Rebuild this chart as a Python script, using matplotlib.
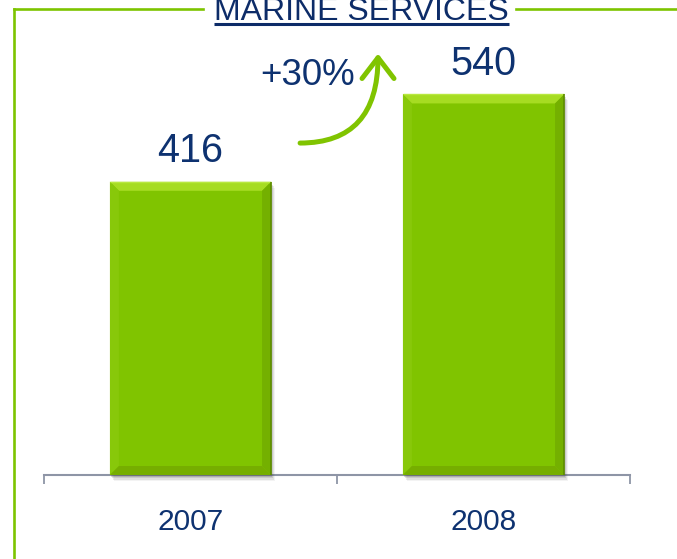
import matplotlib
matplotlib.use("Agg")
import matplotlib.pyplot as plt
from matplotlib.patches import Polygon, Rectangle, FancyArrowPatch
from matplotlib.path import Path
from matplotlib.lines import Line2D
import matplotlib.transforms as mtransforms

# ---- data ----
categories = ["2007", "2008"]
values = [416, 540]
title = "MARINE SERVICES"
growth_label = "+30%"

plt.rcParams['font.family'] = ['Liberation Sans', 'DejaVu Sans']

W, H = 677, 559
fig = plt.figure(figsize=(W / 100, H / 100), dpi=100)
ax = fig.add_axes([44 / W, 84 / H, 586 / W, 475 / H])
ax.set_xlim(-0.5, 1.5)
ax.set_ylim(0, 674)
ax.patch.set_alpha(0)

navy = "#0E3270"
green = "#80C400"
gray = "#8E95A6"

x = list(range(len(categories)))
bars = ax.bar(x, values, width=0.55, color=green, edgecolor="none", zorder=3)

# bevel / shadow effect built from each bar's geometry
inv = ax.transData.inverted()
def px_to_data(dx_px, dy_px):
    p0 = inv.transform((0, 0))
    p1 = inv.transform((dx_px, dy_px))
    return p1[0] - p0[0], p1[1] - p0[1]

bx, by = px_to_data(9, 9)
sx, sy = px_to_data(1, 1)
for r in bars:
    x0, y0 = r.get_x(), r.get_y()
    x1, y1 = x0 + r.get_width(), y0 + r.get_height()
    # soft drop shadow
    for k, a in [(6, 0.06), (4.5, 0.10), (3, 0.14), (1.5, 0.18)]:
        ax.add_patch(Rectangle((x0 + sx * k * 0.6, y0 - sy * k), r.get_width(), r.get_height(),
                               facecolor="#404040", alpha=a, edgecolor="none", zorder=2, clip_on=False))
    # top bevel
    ax.add_patch(Polygon([(x0, y1), (x1, y1), (x1 - bx, y1 - by), (x0 + bx, y1 - by)],
                         closed=True, facecolor="#A6DC22", edgecolor="none", zorder=4))
    # left bevel
    ax.add_patch(Polygon([(x0, y1), (x0 + bx, y1 - by), (x0 + bx, y0 + by), (x0, y0)],
                         closed=True, facecolor="#88C80A", edgecolor="none", zorder=4))
    # right bevel
    ax.add_patch(Polygon([(x1, y1), (x1 - bx, y1 - by), (x1 - bx, y0 + by), (x1, y0)],
                         closed=True, facecolor="#74B000", edgecolor="none", zorder=4))
    # bottom bevel
    ax.add_patch(Polygon([(x0, y0), (x0 + bx, y0 + by), (x1 - bx, y0 + by), (x1, y0)],
                         closed=True, facecolor="#76AE00", edgecolor="none", zorder=4))
    # crisp outline edges
    ax.plot([x0, x1], [y1, y1], color="#B8E840", lw=1.0, zorder=5, solid_capstyle="butt")
    ax.plot([x1, x1], [y0, y1], color="#5E8C00", lw=1.2, zorder=5, solid_capstyle="butt")

# value labels
for xi, v in zip(x, values):
    ax.annotate(str(v), (xi, v), xytext=(0, 14), textcoords="offset points",
                ha="center", va="baseline", fontsize=28.5, color=navy, zorder=6)

# axis styling
for s in ["top", "right", "left"]:
    ax.spines[s].set_visible(False)
ax.spines["bottom"].set_color(gray)
ax.spines["bottom"].set_linewidth(1.5)
ax.spines["bottom"].set_zorder(1)
ax.set_yticks([])
ax.set_xticks(x)
ax.set_xticklabels([])
ax.tick_params(axis="x", which="major", length=0)
ax.set_xticks([-0.5, 0.5, 1.5], minor=True)
ax.tick_params(axis="x", which="minor", length=6.5, width=1.3, color=gray, direction="out")

# category labels (baseline ~55 px below axis)
lab_tr = mtransforms.blended_transform_factory(ax.transData, fig.transFigure)
for xi, c in zip(x, categories):
    ax.text(xi, 1 - 530 / H, c, transform=lab_tr, ha="center", va="baseline",
            fontsize=21.5, color=navy)

# growth arrow between the bars
p_start = (0.374, 471)
p_ctrl = (0.640, 471)
p_tip = (0.640, 598)
arrow_path = Path([p_start, p_ctrl, p_tip], [Path.MOVETO, Path.CURVE3, Path.CURVE3])
arr = FancyArrowPatch(path=arrow_path, arrowstyle="->,head_length=15,head_width=11.5",
                      mutation_scale=1, color=green, lw=3.6, zorder=6,
                      capstyle="round", joinstyle="round", transform=ax.transData, clip_on=False)
ax.add_patch(arr)
fig.text(307.5 / W, 1 - 85 / H, growth_label, ha="center", va="baseline",
         fontsize=26.5, color=navy)

# frame lines and title
frame_green = "#7DC400"
fig.add_artist(Line2D([14 / W, 14 / W], [0, 1 - 9 / H], color=frame_green, lw=1.9,
                      transform=fig.transFigure, solid_capstyle="projecting"))
fig.add_artist(Line2D([14 / W, 203 / W], [1 - 9 / H, 1 - 9 / H], color=frame_green, lw=1.9,
                      transform=fig.transFigure, solid_capstyle="projecting"))
fig.add_artist(Line2D([516 / W, 1], [1 - 9 / H, 1 - 9 / H], color=frame_green, lw=1.9,
                      transform=fig.transFigure))
fig.text(361.5 / W, 1 - 20 / H, title, ha="center", va="baseline", fontsize=23, color="#0D2C68")
fig.add_artist(Line2D([214 / W, 509 / W], [1 - 24 / H, 1 - 24 / H], color="#0D2C68", lw=2.2,
                      transform=fig.transFigure, solid_capstyle="butt"))

fig.savefig("out.png", dpi=100)
